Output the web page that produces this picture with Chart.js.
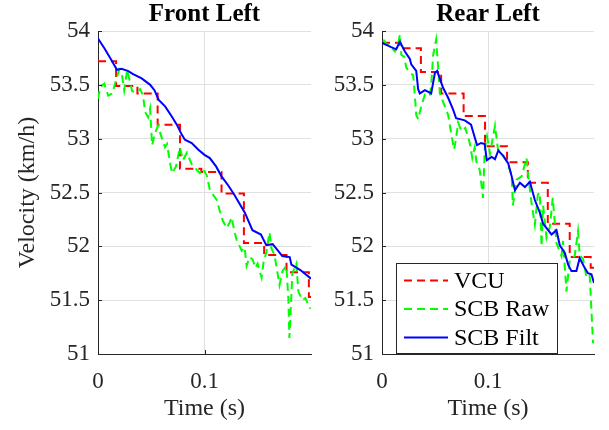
<!DOCTYPE html>
<html>
<head>
<meta charset="utf-8">
<script src="https://cdn.jsdelivr.net/npm/chart.js@4.4.1/dist/chart.umd.min.js"></script>
<style>
  html, body { margin: 0; padding: 0; background: #fff; }
  #contenedor { position: relative; width: 609px; height: 430px; }
  canvas { position: absolute; top: 0; }
  #frontLeft { left: 0; }
  #rearLeft { left: 320px; }
</style>
</head>
<body>
<div id="contenedor">
  <canvas id="frontLeft" width="320" height="430"></canvas>
  <canvas id="rearLeft" width="289" height="430"></canvas>
</div>
<script>
// Ejes
const ticksTiempo = [0, 0.1];
const ticksVelocidad = [51, 51.5, 52, 52.5, 53, 53.5, 54];

// Front Left - VCU (escalones)
const flVcuT = [0, 0.017, 0.037, 0.056, 0.077, 0.097, 0.116, 0.137, 0.156, 0.177, 0.198, 0.2];
const flVcuV = [53.72, 53.49, 53.42, 53.13, 52.72, 52.69, 52.49, 52.03, 51.92, 51.76, 51.53, 51.53];

// Front Left - SCB Raw
const flRawT = [0, 0.0021, 0.0059, 0.0096, 0.0134, 0.0171, 0.0199, 0.0227, 0.0246, 0.0274, 0.0302, 0.0321,
  0.0358, 0.0395, 0.0423, 0.0442, 0.047, 0.0489, 0.0508, 0.0535, 0.0563, 0.0601, 0.0629, 0.0648, 0.0676,
  0.0694, 0.0732, 0.0769, 0.0797, 0.0835, 0.0881, 0.0919, 0.0956, 0.0984, 0.1021, 0.1049, 0.1087, 0.1115,
  0.1143, 0.1171, 0.1208, 0.1236, 0.1255, 0.1283, 0.1302, 0.1349, 0.1377, 0.1395, 0.1423, 0.1451, 0.1479,
  0.1498, 0.1536, 0.1554, 0.1582, 0.161, 0.1629, 0.1657, 0.1676, 0.1704, 0.1732, 0.1769, 0.1788, 0.1797,
  0.1816, 0.1825, 0.1863, 0.1881, 0.1919, 0.1947, 0.1965, 0.1993];
const flRawV = [53.37, 53.48, 53.51, 53.40, 53.42, 53.55, 53.64, 53.58, 53.45, 53.64, 53.52, 53.44,
  53.43, 53.46, 53.40, 53.25, 53.20, 53.28, 52.94, 53.05, 53.12, 53.00, 52.92, 52.95, 52.78,
  52.68, 52.74, 52.92, 52.80, 52.87, 52.76, 52.72, 52.68, 52.72, 52.66, 52.53, 52.47, 52.43,
  52.33, 52.24, 52.17, 52.22, 52.27, 52.13, 52.06, 51.96, 51.99, 51.82, 51.90, 51.88, 51.80,
  51.84, 51.71, 51.85, 51.95, 52.13, 51.98, 51.92, 51.81, 51.64, 51.77, 51.82, 51.50, 51.15,
  51.55, 51.75, 51.84, 51.58, 51.50, 51.52, 51.48, 51.42];

// Front Left - SCB Filt
const flFiltT = [0, 0.006, 0.012, 0.0178, 0.022, 0.028, 0.033, 0.041, 0.049, 0.053, 0.057, 0.063, 0.069,
  0.074, 0.0785, 0.0816, 0.088, 0.094, 0.1, 0.105, 0.111, 0.116, 0.122, 0.128, 0.138, 0.145, 0.153, 0.158,
  0.164, 0.169, 0.173, 0.18, 0.1816, 0.19, 0.2];
const flFiltV = [53.93, 53.84, 53.74, 53.64, 53.65, 53.63, 53.60, 53.56, 53.50, 53.45, 53.36, 53.30, 53.21,
  53.13, 53.04, 52.99, 52.96, 52.90, 52.85, 52.82, 52.74, 52.65, 52.57, 52.48, 52.31, 52.15, 52.11, 52.01,
  52.02, 51.96, 51.91, 51.90, 51.83, 51.78, 51.70];

// Rear Left - VCU (escalones)
const rlVcuT = [0, 0.017, 0.0367, 0.0558, 0.077, 0.0972, 0.118, 0.1376, 0.1564, 0.1771, 0.1969, 0.2];
const rlVcuV = [53.89, 53.84, 53.62, 53.42, 53.21, 52.93, 52.78, 52.59, 52.21, 51.90, 51.80, 51.80];

// Rear Left - SCB Raw
const rlRawT = [0.0012, 0.004, 0.0075, 0.0122, 0.0153, 0.0169, 0.0182, 0.021, 0.0229, 0.0263, 0.0294,
  0.031, 0.0323, 0.0341, 0.037, 0.0405, 0.0452, 0.0464, 0.0483, 0.0511, 0.053, 0.0546, 0.0593, 0.0624,
  0.0652, 0.068, 0.0699, 0.0718, 0.0749, 0.0786, 0.0828, 0.0852, 0.0875, 0.089, 0.0922, 0.0953, 0.0969,
  0.0991, 0.1019, 0.1066, 0.1094, 0.1129, 0.1176, 0.1223, 0.1235, 0.127, 0.1317, 0.1364, 0.1379, 0.1411,
  0.1442, 0.147, 0.1489, 0.1505, 0.152, 0.1552, 0.1583, 0.1611, 0.163, 0.1646, 0.1693, 0.1708, 0.174,
  0.1771, 0.1818, 0.1849, 0.1865, 0.1897, 0.1928, 0.1959, 0.1991];
const rlRawV = [53.92, 53.88, 53.86, 53.81, 53.88, 53.97, 53.78, 53.76, 53.66, 53.61, 53.59,
  53.40, 53.22, 53.18, 53.30, 53.41, 53.40, 53.50, 53.78, 53.92, 53.66, 53.42, 53.30, 53.22,
  53.05, 52.90, 53.00, 53.15, 53.07, 53.10, 52.96, 52.82, 52.92, 52.79, 52.71, 52.45, 52.90,
  53.02, 52.86, 53.12, 52.90, 52.86, 52.79, 52.66, 52.38, 52.62, 52.65, 52.82, 52.66, 52.40,
  52.20, 52.48, 52.50, 52.00, 52.38, 52.08, 52.18, 52.45, 52.22, 52.03, 51.91, 52.05, 51.58,
  51.87, 51.91, 52.14, 51.92, 51.88, 51.72, 51.74, 51.10];

// Rear Left - SCB Filt
const rlFiltT = [0, 0.0087, 0.0134, 0.0169, 0.0216, 0.0263, 0.0276, 0.0323, 0.0341, 0.0357, 0.0405,
  0.0464, 0.0499, 0.052, 0.0577, 0.0624, 0.0671, 0.0699, 0.0781, 0.084, 0.0875, 0.0897, 0.0935, 0.0969,
  0.0988, 0.1035, 0.1066, 0.1097, 0.1144, 0.1191, 0.1223, 0.1254, 0.1301, 0.1348, 0.1395, 0.1442, 0.149,
  0.152, 0.1567, 0.1599, 0.1646, 0.1677, 0.1724, 0.1756, 0.1787, 0.1834, 0.1865, 0.1912, 0.1943, 0.1976, 0.2];
const rlFiltV = [53.89, 53.85, 53.83, 53.90, 53.81, 53.74, 53.69, 53.63, 53.46, 53.42, 53.45,
  53.42, 53.61, 53.63, 53.47, 53.38, 53.27, 53.19, 53.17, 53.13, 53.01, 52.94, 52.96, 52.95,
  52.80, 52.83, 52.81, 52.89, 52.84, 52.77, 52.65, 52.52, 52.59, 52.55, 52.60, 52.43, 52.31,
  52.21, 52.15, 52.11, 52.15, 52.01, 51.94, 51.83, 51.77, 51.77, 51.89, 51.80, 51.75, 51.74, 51.66];

const fuente = "'Liberation Serif', 'Times New Roman', serif";
const grisEje = '#262626';
const colorRejilla = '#e0e0e0';

Chart.defaults.font.family = fuente;
Chart.defaults.color = grisEje;

function puntos(t, v) {
  return t.map((x, i) => ({ x: x, y: v[i] }));
}

// Marcas de graduación hacia dentro del área del gráfico
const marcasInternas = {
  id: 'marcasInternas',
  afterDatasetsDraw(chart) {
    const ctx = chart.ctx;
    const a = chart.chartArea;
    const sx = chart.scales.x, sy = chart.scales.y;
    ctx.save();
    ctx.strokeStyle = grisEje;
    ctx.lineWidth = 1;
    ctx.beginPath();
    sy.ticks.forEach(t => {
      const y = Math.round(sy.getPixelForValue(t.value)) + 0.5;
      ctx.moveTo(a.left, y);
      ctx.lineTo(a.left + 4, y);
    });
    sx.ticks.forEach(t => {
      const x = Math.round(sx.getPixelForValue(t.value)) + 0.5;
      ctx.moveTo(x, a.bottom);
      ctx.lineTo(x, a.bottom - 4);
    });
    ctx.stroke();
    ctx.restore();
  }
};

// Leyenda dibujada dentro del área (esquina inferior)
const leyendaInterna = {
  id: 'leyendaInterna',
  afterDraw(chart, args, opts) {
    if (!opts.mostrar) return;
    const ctx = chart.ctx;
    const a = chart.chartArea;
    const x0 = Math.round(a.left + 14), y0 = Math.round(a.top + 232);
    const w = 161, h = 90;
    ctx.save();
    ctx.fillStyle = '#fff';
    ctx.fillRect(x0, y0, w, h);
    ctx.strokeStyle = grisEje;
    ctx.lineWidth = 1;
    ctx.strokeRect(x0 + 0.5, y0 + 0.5, w, h);
    ctx.font = '24px ' + fuente;
    ctx.textBaseline = 'middle';
    chart.data.datasets.forEach((ds, i) => {
      const y = y0 + 17.5 + i * 28.5;
      ctx.strokeStyle = ds.borderColor;
      ctx.lineWidth = ds.borderWidth;
      ctx.setLineDash(ds.borderDash || []);
      ctx.beginPath();
      ctx.moveTo(x0 + 8, y);
      ctx.lineTo(x0 + 52, y);
      ctx.stroke();
      ctx.setLineDash([]);
      ctx.fillStyle = '#000';
      ctx.fillText(ds.label, x0 + 58, y + 1);
    });
    ctx.restore();
  }
};

function crearGrafico(id, titulo, s, conf) {
  const ctx = document.getElementById(id).getContext('2d');
  return new Chart(ctx, {
    type: 'line',
    data: {
      datasets: [{
        label: 'VCU',
        data: puntos(s.vcuT, s.vcuV),
        stepped: true,
        borderColor: '#ff0000',
        borderWidth: 2,
        borderDash: [8, 5],
        order: 2
      }, {
        label: 'SCB Raw',
        data: puntos(s.rawT, s.rawV),
        borderColor: '#00ff00',
        borderWidth: 2,
        borderDash: [8, 5],
        order: 1
      }, {
        label: 'SCB Filt',
        data: puntos(s.filtT, s.filtV),
        borderColor: '#0000ff',
        borderWidth: 2,
        order: 0
      }]
    },
    options: {
      responsive: false,
      animation: false,
      layout: { padding: { left: conf.padIzq, right: conf.padDer, top: 0, bottom: 0 } },
      elements: { point: { radius: 0 }, line: { tension: 0, fill: false } },
      plugins: {
        legend: { display: false },
        tooltip: { enabled: false },
        title: {
          display: true,
          text: titulo,
          fullSize: false,
          color: '#000',
          font: { family: fuente, size: 25, weight: 'bold', lineHeight: 1.2 },
          padding: { top: 0, bottom: 1 }
        },
        leyendaInterna: { mostrar: conf.leyenda }
      },
      scales: {
        x: {
          type: 'linear',
          min: 0,
          max: 0.2,
          afterBuildTicks: eje => { eje.ticks = ticksTiempo.map(v => ({ value: v })); },
          afterFit: eje => { eje.height = 76; },
          grid: { color: colorRejilla, drawTicks: false },
          border: { color: grisEje },
          ticks: {
            padding: 14,
            maxRotation: 0,
            font: { size: 23 },
            callback: v => String(+v.toFixed(2))
          },
          title: {
            display: true,
            text: 'Time (s)',
            font: { size: 24 },
            padding: { top: 0, bottom: 7 }
          }
        },
        y: {
          type: 'linear',
          min: 51,
          max: 54,
          afterBuildTicks: eje => { eje.ticks = ticksVelocidad.map(v => ({ value: v })); },
          afterFit: eje => { eje.width = conf.anchoY; },
          grid: { color: colorRejilla, drawTicks: false },
          border: { color: grisEje },
          ticks: {
            padding: 8,
            font: { size: 23 },
            callback: v => String(+v.toFixed(2))
          },
          title: {
            display: conf.tituloY,
            text: 'Velocity (km/h)',
            font: { size: 24 },
            padding: { top: 7, bottom: 0 }
          }
        }
      }
    },
    plugins: [marcasInternas, leyendaInterna]
  });
}

crearGrafico('frontLeft', 'Front Left',
  { vcuT: flVcuT, vcuV: flVcuV, rawT: flRawT, rawV: flRawV, filtT: flFiltT, filtV: flFiltV },
  { padIzq: 6, padDer: 9, anchoY: 92, tituloY: true, leyenda: false });

crearGrafico('rearLeft', 'Rear Left',
  { vcuT: rlVcuT, vcuV: rlVcuV, rawT: rlRawT, rawV: rlRawV, filtT: rlFiltT, filtV: rlFiltV },
  { padIzq: 0, padDer: 15, anchoY: 62, tituloY: false, leyenda: true });
</script>
</body>
</html>
